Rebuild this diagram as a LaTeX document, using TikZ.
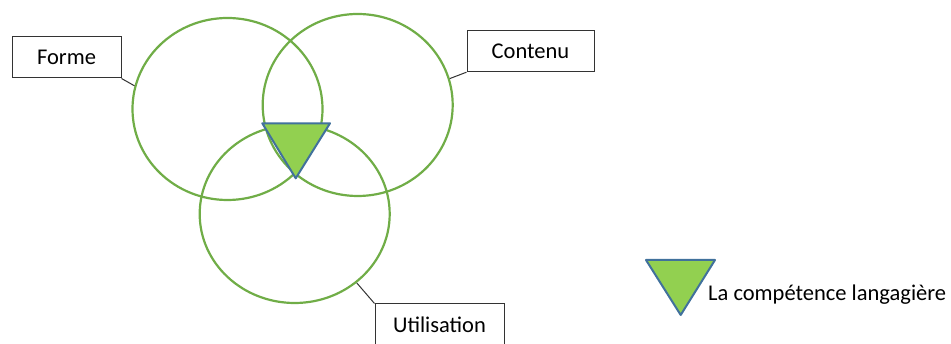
\documentclass[tikz,border=0pt]{standalone}
\usepackage{fontspec}
\setmainfont{Carlito}
\usetikzlibrary{shapes.geometric}
\definecolor{ringgreen}{RGB}{112,173,71}
\definecolor{trifill}{RGB}{146,208,80}
\definecolor{triedge}{RGB}{65,113,156}
\begin{document}
\begin{tikzpicture}[x=1pt,y=1pt,
    ring/.style={ellipse, draw=ringgreen, line width=2.2pt,
        minimum width=190pt, minimum height=182pt, inner sep=0pt},
    label box/.style={draw=black!80, line width=1pt, fill=white,
        font=\fontsize{22.5}{26}\selectfont, inner sep=0pt},
    tri/.style={fill=trifill, draw=triedge, line width=2pt, line join=round},
    link/.style={draw=black!80, line width=1pt}]
  \useasboundingbox (0,0) rectangle (951,344);
  % les trois cercles
  \node[ring] (forme) at (227.5,235) {};
  \node[ring] (contenu) at (357.7,239) {};
  \node[ring, minimum height=178pt] (utilisation) at (294.7,130) {};
  % le triangle au centre
  \draw[tri] (262.3,220.7) -- (330,220.7) -- (295.7,165.7) -- cycle;
  % les etiquettes
  \node[label box, minimum width=109pt, minimum height=41pt] (lforme)
    at (66.5,286.5) {Forme};
  \node[label box, minimum width=127pt, minimum height=41pt] (lcontenu)
    at (530.5,292.8) {Contenu};
  \node[label box, minimum width=129pt, minimum height=41pt] (lutil)
    at (439.5,19.5) {Utilisation};
  \draw[link] (lforme.south east) -- (forme.166);
  \draw[link] (lcontenu.south west) -- (contenu.16);
  \draw[link] (lutil.north west) -- (utilisation.-48);
  % la legende
  \draw[tri] (646,84) -- (715,84) -- (680.7,29) -- cycle;
  \node[anchor=west, inner sep=0pt, font=\fontsize{22.5}{26}\selectfont] (legende)
    at (708,49) {La compétence langagière};
\end{tikzpicture}
\end{document}
